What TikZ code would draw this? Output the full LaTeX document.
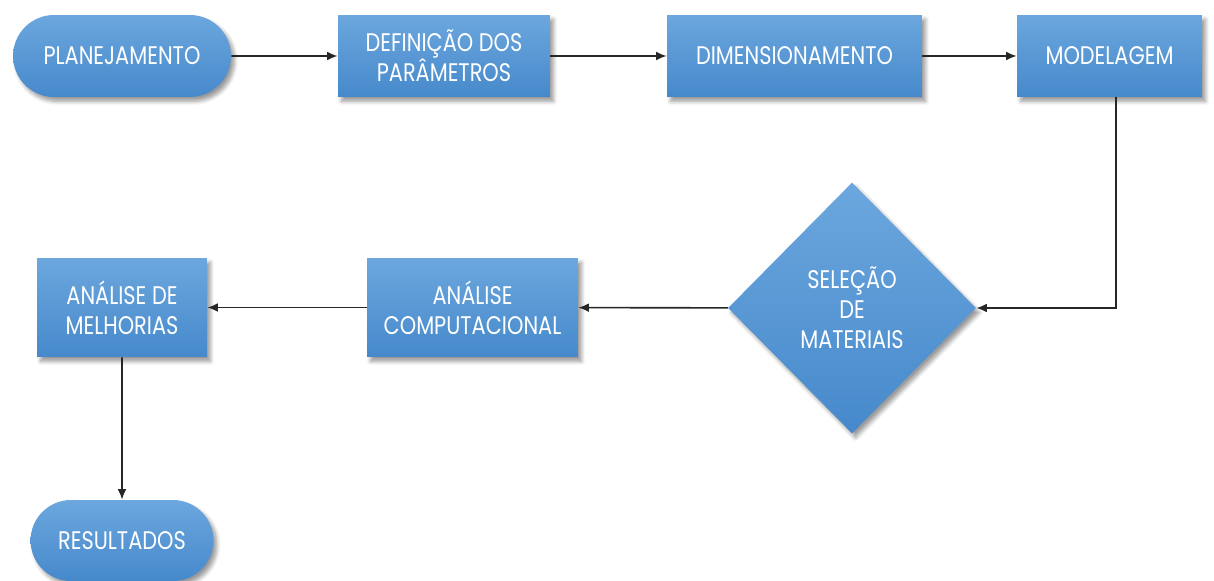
\documentclass[tikz,border=0pt]{standalone}
\usepackage{fontspec}
\setmainfont[FakeStretch=0.82]{Poppins}
\usepackage{tikz}
\usetikzlibrary{arrows.meta, positioning, shapes.geometric, shapes.misc, shadows.blur}

\definecolor{boxtop}{HTML}{6CA7DE}
\definecolor{boxbot}{HTML}{4689CB}

\tikzset{
  block/.style={rectangle, draw=none, top color=boxtop, bottom color=boxbot,
    text=white, align=center, inner sep=2pt,
    font=\fontsize{14.5}{17}\selectfont,
    blur shadow={shadow xshift=2pt, shadow yshift=-2.5pt, shadow blur steps=6, shadow opacity=40}},
  term/.style={block, rounded rectangle},
  choice/.style={block, diamond, inner sep=0pt},
  flow/.style={-{Latex[length=6pt,width=5pt]}, line width=0.9pt, black!85}
}

\begin{document}
\begin{tikzpicture}[x=0.02cm, y=-0.02cm]
\useasboundingbox (0,0) rectangle (1214,581);

% Top row
\node[term, minimum width=4.5cm, minimum height=1.64cm] (plan) at (122,56) {PLANEJAMENTO};
\node[block, minimum width=4.24cm, minimum height=1.64cm] (param) at (444,56) {DEFINIÇÃO DOS\\PARÂMETROS};
\node[block, minimum width=5.1cm, minimum height=1.64cm] (dimen) at (794.5,56) {DIMENSIONAMENTO};
\node[block, minimum width=3.7cm, minimum height=1.64cm] (model) at (1109.5,56) {MODELAGEM};

% Middle row
\node[choice, minimum width=4.96cm, minimum height=5.02cm] (mater) at (852,308) {SELEÇÃO\\DE\\MATERIAIS};
\node[block, minimum width=4.22cm, minimum height=1.98cm] (comput) at (472.5,307.5) {ANÁLISE\\COMPUTACIONAL};
\node[block, minimum width=3.4cm, minimum height=1.98cm] (melhor) at (122,307.5) {ANÁLISE DE\\MELHORIAS};

% End
\node[term, minimum width=3.8cm, minimum height=1.62cm] (result) at (122,540.5) {RESULTADOS};

% Connectors
\draw[flow] (plan) -- (param);
\draw[flow] (param) -- (dimen);
\draw[flow] (dimen) -- (model);
\draw[flow] ([xshift=0.13cm]model.south) |- (mater.east);
\draw[flow] (mater) -- (comput);
\draw[flow] (comput) -- (melhor);
\draw[flow] (melhor) -- (result);

\end{tikzpicture}
\end{document}
